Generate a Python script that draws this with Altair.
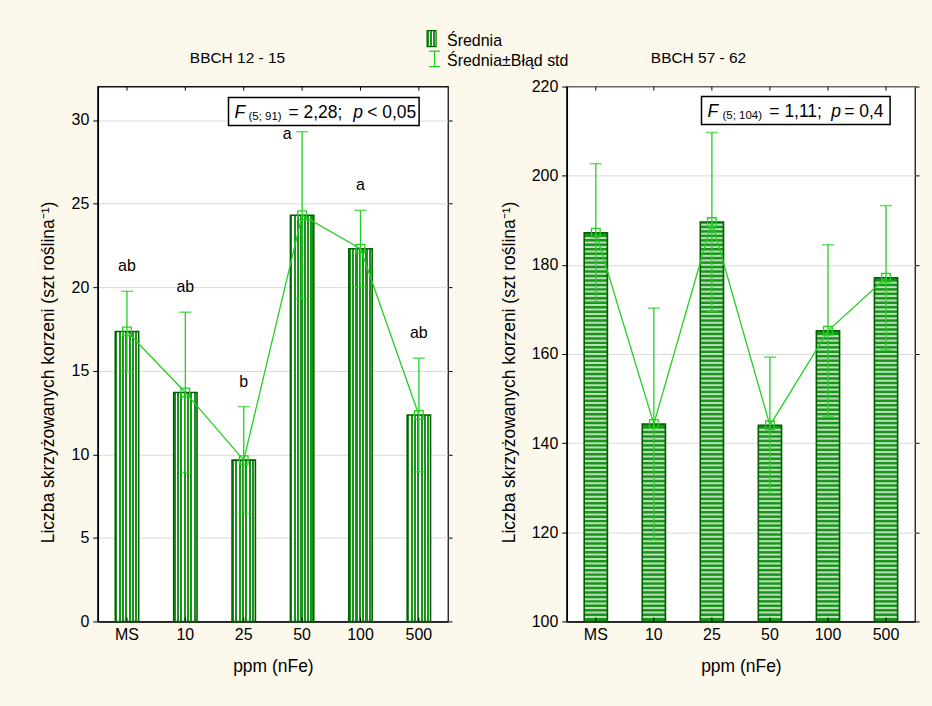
import altair as alt
import numpy as np
import pandas as pd

# ---- data -------------------------------------------------------------
doses = ["MS", "10", "25", "50", "100", "500"]

# BBCH 12-15: mean number of crossed roots and its standard error
early_mean = [17.35, 13.7, 9.65, 24.3, 22.3, 12.35]
early_se = [2.4, 4.8, 3.2, 5.0, 2.3, 3.4]
early_groups = ["ab", "ab", "b", "a", "a", "ab"]
early_ticks = [0, 5, 10, 15, 20, 25, 30]

# BBCH 57-62
late_mean = [187.2, 144.3, 189.6, 144.0, 165.2, 177.1]
late_se = [15.5, 26.0, 20.1, 15.3, 19.3, 16.2]
late_ticks = [100, 120, 140, 160, 180, 200, 220]

# ---- style ------------------------------------------------------------
FONT = "Liberation Sans"
BG = "#fdf8ec"
BAR_FILL = "#1a941a"
BAR_EDGE = "#006000"
LINE = "#22d022"
W_L, W_R, H = 351, 349, 536
Y_TITLE = "Liczba skrzyżowanych korzeni (szt roślina⁻¹)"


def frame(mean, se, groups=None):
    df = pd.DataFrame({"dose": doses, "mean": mean, "se": se})
    df["lo"] = df["mean"] - df["se"]
    df["hi"] = df["mean"] + df["se"]
    if groups is not None:
        df["grp"] = groups
    return df


def stripe_gradient(n=7, duty=0.62):
    stops = []
    for i in range(n):
        a, b, c = i / n, (i + duty) / n, (i + 1) / n
        stops += [
            alt.GradientStop(color=BAR_FILL, offset=a),
            alt.GradientStop(color=BAR_FILL, offset=b),
            alt.GradientStop(color="white", offset=b),
            alt.GradientStop(color="white", offset=c),
        ]
    return alt.Gradient(gradient="linear", stops=stops, x1=0, x2=1, y1=0, y2=0)


def one():
    return pd.DataFrame({"k": [0]})


def note(text, x, y, size=16, style="normal", align="left", baseline="alphabetic"):
    return alt.Chart(pd.DataFrame({"t": [text]})).mark_text(
        font=FONT, fontSize=size, fontStyle=style, align=align,
        baseline=baseline, color="black"
    ).encode(x=alt.value(x), y=alt.value(y), text="t:N")


def box(x, x2, y, y2):
    return alt.Chart(one()).mark_rect(
        fill="white", stroke="black", strokeWidth=1.5
    ).encode(x=alt.value(x), x2=alt.value(x2), y=alt.value(y), y2=alt.value(y2))


def panel(df, domain, ticks, width, bar_fill, title_x, stripes=None, letters=False, extras=()):
    xs = alt.Scale(paddingInner=0.6, paddingOuter=0.3)
    ys = alt.Scale(domain=domain, nice=False, zero=False)
    x_axis = alt.Axis(title="ppm (nFe)", ticks=False, tickSize=0, labelPadding=5,
                      titlePadding=15, titleFontSize=17.5, labelAngle=0, grid=False)
    y_axis = alt.Axis(values=ticks, title=Y_TITLE, tickSize=5, grid=True,
                      labelPadding=4, titleFontSize=17.5, titleX=title_x, titleY=H / 2 + 18)

    def X(ax=None):
        return alt.X("dose:N", sort=doses, scale=xs, axis=ax)

    def Y(field, ax=None):
        return alt.Y(f"{field}:Q", scale=ys, axis=ax)

    base = alt.Chart(df)
    layers = [
        base.mark_bar(fill=bar_fill, strokeWidth=0).encode(
            x=X(x_axis), y=Y("mean", y_axis), y2=alt.datum(domain[0])
        )
    ]
    if stripes is not None:
        layers.append(
            alt.Chart(stripes).mark_tick(color="white", thickness=2, size=22, orient="horizontal")
            .encode(x=X(), y=Y("v"))
        )
    layers += [
        base.mark_bar(fillOpacity=0, stroke=BAR_EDGE, strokeWidth=1.6).encode(
            x=X(), y=Y("mean"), y2=alt.datum(domain[0])
        ),
        base.mark_rule(color=LINE, strokeWidth=1.3).encode(x=X(), y=Y("lo"), y2="hi"),
        base.mark_tick(color=LINE, thickness=1.5, size=12, orient="horizontal").encode(x=X(), y=Y("lo")),
        base.mark_tick(color=LINE, thickness=1.5, size=12, orient="horizontal").encode(x=X(), y=Y("hi")),
        base.mark_line(color=LINE, strokeWidth=1.3).encode(x=X(), y=Y("mean")),
        base.mark_point(shape="square", filled=False, size=75, color=LINE, strokeWidth=1.3,
                        opacity=1).encode(x=X(), y=Y("mean")),
        # mirrored axis on the right edge, ticks only
        base.mark_point(opacity=0).encode(
            x=X(),
            y=alt.Y("mean:Q", scale=ys, axis=alt.Axis(
                orient="right", values=ticks, labels=False, title=None, grid=False,
                tickSize=4, domain=False)),
        ),
        # short inward category ticks at the bottom and top edges
        base.mark_rule(color="black", strokeWidth=1).encode(x=X(), y=alt.value(H), y2=alt.value(H - 4)),
        base.mark_rule(color="black", strokeWidth=1).encode(x=X(), y=alt.value(0), y2=alt.value(4)),
    ]
    if letters:
        layers += [
            base.transform_filter(alt.datum.dose != "50").mark_text(
                font=FONT, fontSize=16, color="black", baseline="middle", dy=-25
            ).encode(x=X(), y=Y("hi"), text="grp:N"),
            base.transform_filter(alt.datum.dose == "50").mark_text(
                font=FONT, fontSize=16, color="black", baseline="middle", dx=-15, dy=2
            ).encode(x=X(), y=Y("hi"), text="grp:N"),
        ]
    layers += list(extras)
    return alt.layer(*layers).resolve_axis(x="independent", y="independent").properties(
        width=width, height=H
    )


early = frame(early_mean, early_se, early_groups)
late = frame(late_mean, late_se)

# horizontal hatching of the BBCH 57-62 bars: one white line per unit
late_stripes = pd.DataFrame(
    [(d, v) for d, m in zip(doses, late_mean) for v in np.arange(late_ticks[0] + 1, m - 0.4, 1.0)],
    columns=["dose", "v"],
)

legend_swatch = alt.Chart(one()).mark_rect(
    fill=stripe_gradient(n=3, duty=0.6), stroke=BAR_EDGE, strokeWidth=1.2
).encode(x=alt.value(330), x2=alt.value(339), y=alt.value(-56), y2=alt.value(-40))
legend_err = alt.Chart(one())
legend_err_layers = [
    legend_err.mark_rule(color=LINE, strokeWidth=1.3).encode(
        x=alt.value(337.5), y=alt.value(-35.5), y2=alt.value(-20)),
    legend_err.mark_rule(color=LINE, strokeWidth=1.3).encode(
        x=alt.value(332), x2=alt.value(343), y=alt.value(-35.5)),
    legend_err.mark_rule(color=LINE, strokeWidth=1.3).encode(
        x=alt.value(332), x2=alt.value(343), y=alt.value(-20)),
]

# invisible sheet fixing the drawing bounds to the full page
sheet = alt.Chart(one()).mark_rect(opacity=0).encode(
    x=alt.value(-97), x2=alt.value(835), y=alt.value(-85), y2=alt.value(621)
)

left_extras = [
    sheet,
    note("BBCH 12 - 15", 140, -24, size=15.5, align="center"),
    legend_swatch,
    *legend_err_layers,
    note("Średnia", 350, -41, size=16),
    note("Średnia±Błąd std", 350, -21, size=16),
    box(131, 322, 11, 39),
    note("F", 137, 31, size=17.5, style="italic"),
    note("(5; 91)", 151, 33, size=11.5),
    note("= 2,28;", 191, 31, size=17.5),
    note("p", 256, 31, size=17.5, style="italic"),
    note("< 0,05", 270, 31, size=17.5),
]

right_extras = [
    note("BBCH 57 - 62", 132, -24, size=15.5, align="center"),
    box(135, 324, 10, 38),
    note("F", 141, 30, size=17.5, style="italic"),
    note("(5; 104)", 156, 32, size=11.5),
    note("= 1,11;", 203, 30, size=17.5),
    note("p", 265, 30, size=17.5, style="italic"),
    note("= 0,4", 278, 30, size=17.5),
]

left = panel(early, [0, 32], early_ticks, W_L, stripe_gradient(), title_x=-40,
             letters=True, extras=left_extras)
right = panel(late, [100, 220], late_ticks, W_R, BAR_FILL, title_x=-48,
              stripes=late_stripes, extras=right_extras)

chart = alt.hconcat(left, right, spacing=119, bounds="flush").properties(
    padding=0, background=BG
).configure_view(
    fill="white", stroke="#111111", strokeWidth=1.3
).configure_axis(
    labelFont=FONT, titleFont=FONT, labelFontSize=16, titleFontSize=16,
    labelColor="black", titleColor="black", titleFontWeight="normal",
    domainColor="black", domainWidth=1.5, tickColor="black", tickWidth=1,
    gridColor="#dadada", gridWidth=1,
)

chart.save("out.html", embed_options={"renderer": "svg", "actions": False})
